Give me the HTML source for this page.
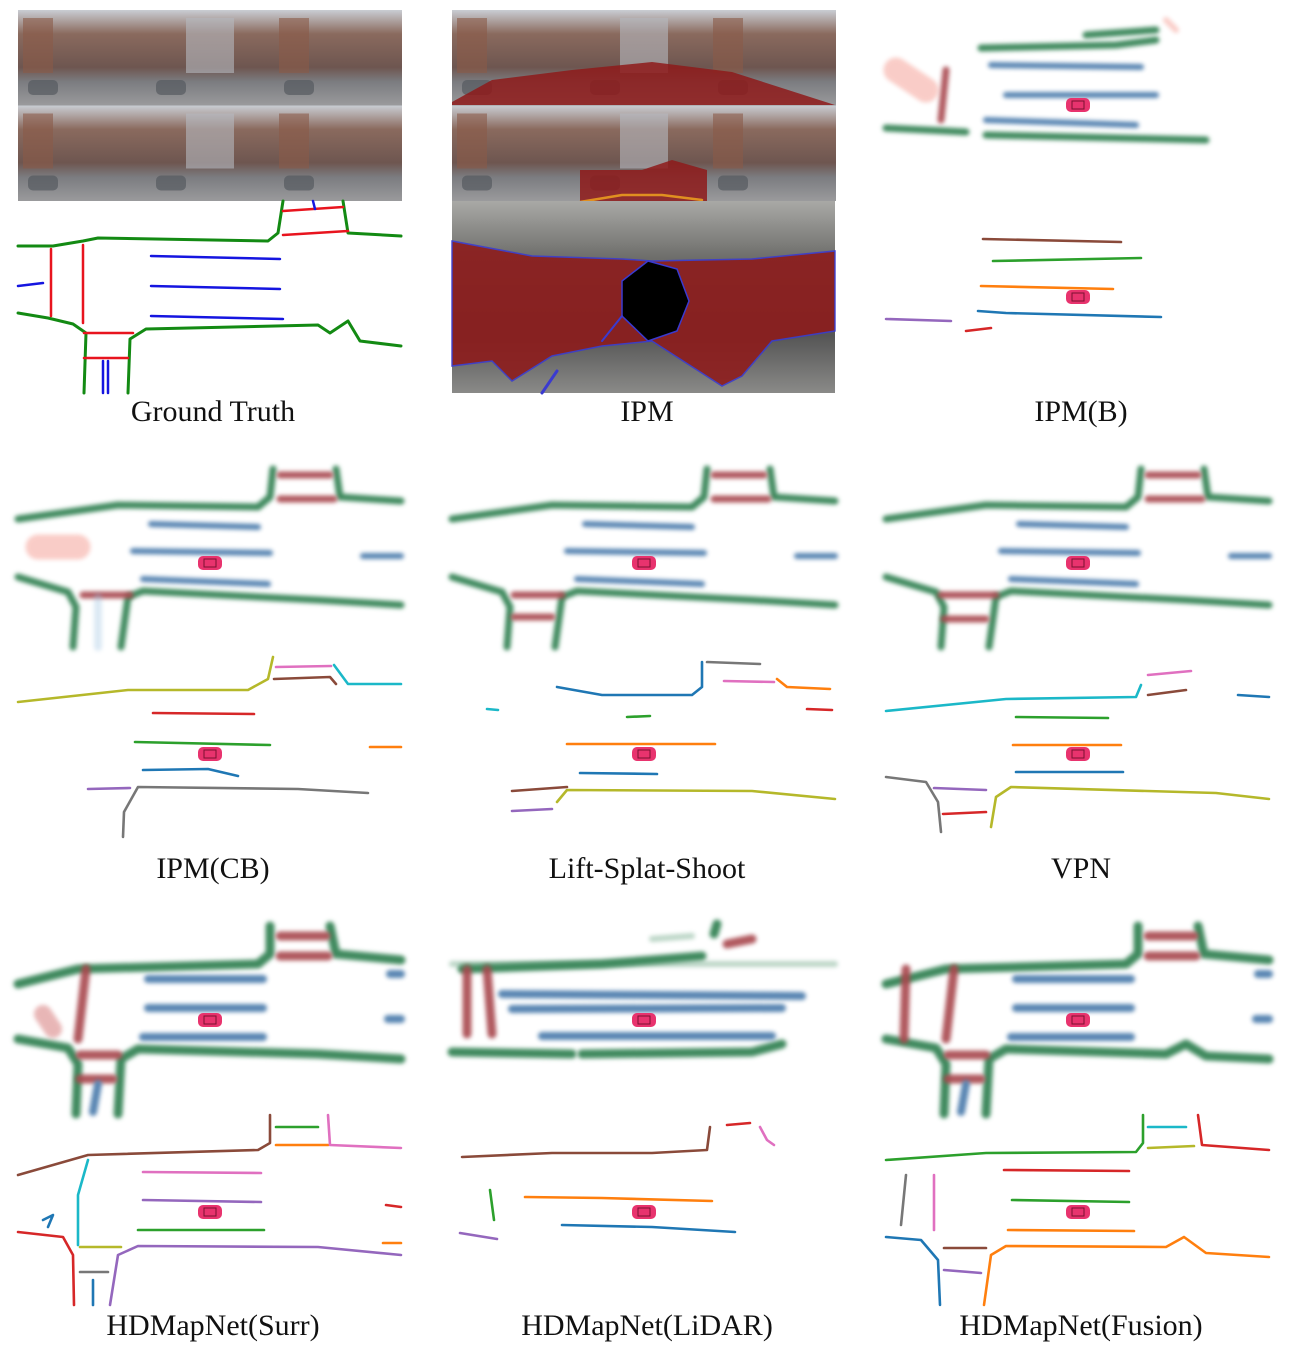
<!DOCTYPE html>
<html><head><meta charset="utf-8"><style>
body{margin:0;background:#fff;width:1297px;height:1350px;overflow:hidden}
svg{display:block}
text{font-family:"Liberation Serif",serif;font-size:30px;fill:#111}
</style></head><body>
<svg id="fig" width="1297" height="1350">
<defs>
<filter id="bl" filterUnits="userSpaceOnUse" x="-50" y="-50" width="500" height="300"><feGaussianBlur stdDeviation="2.2"/></filter>
<linearGradient id="ph" x1="0" y1="0" x2="0" y2="1">
<stop offset="0" stop-color="#c9cdd3"/><stop offset="0.25" stop-color="#8a6a5e"/><stop offset="0.6" stop-color="#6e5650"/><stop offset="0.75" stop-color="#7b7c80"/><stop offset="1" stop-color="#9a9a9c"/></linearGradient>
<linearGradient id="bev" x1="0" y1="0" x2="0" y2="1">
<stop offset="0" stop-color="#a9a9a6"/><stop offset="0.3" stop-color="#6d6d6a"/><stop offset="0.7" stop-color="#555"/><stop offset="1" stop-color="#8a8a88"/></linearGradient>
</defs>
<g id="content"></g>
<text x="213" y="421" text-anchor="middle">Ground Truth</text>
<text x="647" y="421" text-anchor="middle">IPM</text>
<text x="1081" y="421" text-anchor="middle">IPM(B)</text>
<text x="213" y="878" text-anchor="middle">IPM(CB)</text>
<text x="647" y="878" text-anchor="middle">Lift-Splat-Shoot</text>
<text x="1081" y="878" text-anchor="middle">VPN</text>
<text x="213" y="1335" text-anchor="middle">HDMapNet(Surr)</text>
<text x="647" y="1335" text-anchor="middle">HDMapNet(LiDAR)</text>
<text x="1081" y="1335" text-anchor="middle">HDMapNet(Fusion)</text>
</svg>
<script>
const NS='http://www.w3.org/2000/svg';
const root=document.getElementById('content');
function el(tag,attrs,parent){const e=document.createElementNS(NS,tag);for(const k in attrs)e.setAttribute(k,attrs[k]);(parent||root).appendChild(e);return e;}
function grp(x,y,name){const g=el('g',{transform:`translate(${x},${y})`});


return g;}
function pl(g,pts,color,w,name,blur,op){const p=el('polyline',{points:pts.map(a=>a.join(',')).join(' '),fill:'none',stroke:color,'stroke-width':w,'stroke-linecap':'round','stroke-linejoin':'round'},g);
if(blur)p.setAttribute('filter','url(#bl)');if(op)p.setAttribute('opacity',op);

return p;}
function car(g,x,y){const c=el('rect',{x:x-12,y:y-7,width:24,height:14,rx:5,fill:'#e8336e'},g);


el('rect',{x:x-6,y:y-4,width:12,height:8,fill:'none',stroke:'#7a1030','stroke-width':1},g);}
const G='#3f8a5f',B='#4f7fae',R='#a8464e';
function photos(x0,y0,name,overlay){
  const g=grp(x0,y0,name);
  for(let r=0;r<2;r++)for(let c=0;c<3;c++){
    const px=c*128,py=r*95.5;
    el('rect',{x:px,y:py,width:128,height:95.5,fill:'url(#ph)'},g);
    el('rect',{x:px+(c==1?40:5),y:py+8,width:c==1?48:30,height:55,fill:c==1?'#b5b9bf':'#8b5a48',opacity:0.6},g);
    el('rect',{x:px+10,y:py+70,width:30,height:15,rx:5,fill:'#555a60',opacity:0.7},g);
  }
  if(overlay){
    el('path',{d:'M0,92 L40,70 L120,60 L200,52 L280,62 L383,95 L0,95Z',fill:'#8e1a1a',opacity:0.85},g);
    el('path',{d:'M128,160 L190,160 L220,150 L255,160 L255,191 L128,191Z',fill:'#8e1a1a',opacity:0.85},g);
    pl(g,[[128,192],[170,185],[210,185],[250,190]],'#e09020',2.5,'ipm-orange-line');
    pl(g,[[255,192],[300,193],[350,198]],'#2a9a4a',2,'ipm-green-line');
  }
  return g;
}
photos(18,10,'ground-truth-camera-images',false);
photos(452,10,'ipm-camera-images',true);
const gt=grp(18,201,'ground-truth-map');
el('rect',{x:0,y:0,width:383,height:192,fill:'#fff'},gt);
pl(gt,[[0,45],[35,45],[65,40],[80,37],[250,40],[260,32],[265,0]],'#138a13',3,'gt-boundary');
pl(gt,[[325,0],[330,32],[383,35]],'#138a13',3,'gt-boundary');
pl(gt,[[0,112],[30,117],[55,123],[68,132],[66,192]],'#138a13',3,'gt-boundary');
pl(gt,[[110,192],[112,138],[128,128],[300,124],[312,132],[330,120],[342,140],[383,145]],'#138a13',3,'gt-boundary');
pl(gt,[[265,34],[330,30]],'#e8141e',2.5,'gt-crossing');pl(gt,[[265,10],[325,6]],'#e8141e',2.5,'gt-crossing');
pl(gt,[[33,48],[33,115]],'#e8141e',2.5,'gt-crossing');pl(gt,[[65,44],[65,122]],'#e8141e',2.5,'gt-crossing');
pl(gt,[[66,132],[115,132]],'#e8141e',2.5,'gt-crossing');pl(gt,[[66,157],[110,157]],'#e8141e',2.5,'gt-crossing');
[[55,133,262],[85,133,262],[115,133,265]].forEach(a=>pl(gt,[[a[1],a[0]],[a[2],a[0]+3]],'#1515e0',2.5,'gt-lane-divider'));
pl(gt,[[0,85],[25,82]],'#1515e0',2.5,'gt-lane-divider');pl(gt,[[85,160],[85,192]],'#1515e0',2.5,'gt-lane-divider');
pl(gt,[[90,160],[90,192]],'#1515e0',2.5,'gt-lane-divider');pl(gt,[[295,0],[297,8]],'#1515e0',2.5,'gt-lane-divider');
const ib=grp(452,201,'ipm-birds-eye-view');
el('rect',{x:0,y:0,width:383,height:192,fill:'url(#bev)'},ib);
el('path',{d:'M0,40 L80,55 L170,58 L200,60 L300,58 L383,50 L383,130 L320,140 L290,175 L270,185 L200,140 L150,145 L100,155 L60,180 L40,160 L0,165Z',fill:'#8e1a1a',opacity:0.88,stroke:'#3a3ad0','stroke-width':1.5},ib);
el('polygon',{points:'196,60 225,68 237,100 225,130 196,140 170,115 170,80',fill:'#000',stroke:'#3a3ad0','stroke-width':1.5},ib);
pl(ib,[[170,115],[150,140]],'#3a3ad0',2,'ipm-line');pl(ib,[[90,192],[105,170]],'#3a3ad0',3,'ipm-line');
function heat(x,y,name,h,thick){
  const g=grp(x,y,name);const w=thick?9:7;
  pl(g,h.top1,G,w,'road-boundary',true);pl(g,h.top2,G,w,'road-boundary',true);
  pl(g,h.bot1,G,w,'road-boundary',true);pl(g,h.bot2,G,w,'road-boundary',true);
  h.red.forEach(r=>pl(g,r,R,w,'ped-crossing',true,0.9));
  h.blue.forEach(r=>pl(g,r,B,w-1,'lane-divider',true,0.95));
  (h.faint||[]).forEach(r=>pl(g,r[0],r[1],r[2],'noise',true,0.35));
  car(g,192,h.car);return g;
}
function vec(x,y,name,lines,carY){const g=grp(x,y,name);lines.forEach(l=>pl(g,l[1],l[0],2.6,'instance-line'));car(g,192,carY);return g;}
const H2={top1:[[0,52],[100,38],[240,40],[252,30],[255,2]],top2:[[318,2],[322,30],[383,34]],
 bot1:[[0,110],[50,125],[58,140],[55,180]],bot2:[[103,180],[110,130],[125,124],[300,133],[383,138]],
 red:[[[262,8],[312,8]],[[262,32],[316,32]]],blue:[[[133,57],[240,60]],[[115,84],[252,86]],[[125,112],[250,117]],[[345,89],[383,89]]],car:96};
const V2=[['#b5b82a',[[0,45],[110,33],[230,33],[250,22],[255,0]]],['#e070c0',[[258,10],[313,9]]],['#1bb8c8',[[316,8],[330,27],[383,27]]],
 ['#8a4a3a',[[256,22],[312,20],[318,27]]],['#d62728',[[135,56],[236,57]]],['#2ca02c',[[117,85],[252,88]]],['#ff7f0e',[[352,90],[383,90]]],
 ['#1f77b4',[[125,113],[190,112],[220,119]]],['#9467bd',[[70,132],[112,131]]],['#777',[[105,180],[106,155],[120,130],[280,132],[350,136]]]];
const H2f=JSON.parse(JSON.stringify(H2));H2f.faint=[[[[20,80],[60,80]],'#f07060',25],[[[80,130],[80,180]],'#9ac0e0',8]];H2f.red.push([[65,128],[112,128]]);
heat(18,467,'ipm-cb-heatmap',H2f,false);
vec(18,657,'ipm-cb-vectors',V2,97);
const H2l=JSON.parse(JSON.stringify(H2));H2l.red.push([[62,128],[110,128]],[[62,150],[100,150]]);
heat(452,467,'lss-heatmap',H2l,false);
vec(452,657,'lss-vectors',[['#1f77b4',[[105,30],[150,38],[240,38],[250,30],[250,5]]],['#777',[[255,5],[308,7]]],['#e070c0',[[272,24],[322,25]]],
 ['#ff7f0e',[[325,22],[335,30],[378,32]]],['#d62728',[[355,52],[380,53]]],['#1bb8c8',[[35,52],[46,53]]],['#2ca02c',[[175,60],[198,59]]],
 ['#ff7f0e',[[115,87],[263,87]]],['#1f77b4',[[128,116],[205,117]]],['#8a4a3a',[[60,134],[115,130]]],['#9467bd',[[60,154],[100,152]]],
 ['#b5b82a',[[105,145],[115,133],[300,134],[383,142]]]],97);
const H2v=JSON.parse(JSON.stringify(H2));H2v.red.push([[55,128],[110,128]],[[58,152],[100,152]]);
heat(886,467,'vpn-heatmap',H2v,false);
vec(886,657,'vpn-vectors',[['#1bb8c8',[[0,54],[120,42],[250,40],[255,28]]],['#e070c0',[[262,18],[305,14]]],['#8a4a3a',[[262,38],[300,33]]],
 ['#1f77b4',[[352,38],[383,40]]],['#2ca02c',[[130,60],[222,61]]],['#ff7f0e',[[127,88],[235,88]]],['#1f77b4',[[130,115],[237,115]]],
 ['#777',[[0,120],[40,125],[52,145],[55,175]]],['#9467bd',[[48,131],[100,133]]],['#d62728',[[57,157],[100,155]]],
 ['#b5b82a',[[105,170],[110,140],[125,130],[330,136],[383,142]]]],97);
const H3={top1:[[0,60],[60,45],[240,40],[252,30],[252,2]],top2:[[312,2],[318,30],[383,36]],
 bot1:[[0,115],[50,124],[60,140],[58,190]],bot2:[[100,190],[103,135],[120,125],[300,130],[383,135]],
 red:[[[262,12],[308,12]],[[262,32],[310,32]],[[68,45],[60,115]],[[62,131],[100,131]],[[62,155],[95,155]]],
 blue:[[[130,55],[245,55]],[[130,84],[245,84]],[[125,113],[245,113]],[[80,160],[75,188]],[[372,50],[383,50]],[[370,95],[383,95]]],car:96};
const H3s=JSON.parse(JSON.stringify(H3));H3s.faint=[[[[25,90],[35,105]],'#c03030',18]];
heat(18,924,'hdmapnet-surr-heatmap',H3s,true);
vec(18,1115,'hdmapnet-surr-vectors',[['#8a4a3a',[[0,60],[70,40],[240,35],[252,28],[252,0]]],['#2ca02c',[[258,12],[300,12]]],['#ff7f0e',[[258,30],[310,30]]],
 ['#e070c0',[[310,0],[312,30],[383,33]]],['#e070c0',[[125,57],[243,58]]],['#9467bd',[[125,85],[243,87]]],['#2ca02c',[[120,115],[246,115]]],
 ['#1bb8c8',[[70,45],[60,80],[60,130]]],['#1f77b4',[[25,105],[35,100],[30,112]]],['#d62728',[[0,117],[45,122],[55,140],[56,190]]],
 ['#b5b82a',[[62,132],[103,132]]],['#777',[[62,157],[90,157]]],['#1f77b4',[[75,165],[75,190]]],['#9467bd',[[92,190],[100,140],[120,131],[300,132],[383,140]]],
 ['#d62728',[[368,90],[383,92]]],['#ff7f0e',[[365,128],[383,128]]]],97);
heat(452,924,'hdmapnet-lidar-heatmap',{top1:[[10,45],[150,40],[250,32]],top2:[[262,10],[265,0]],bot1:[[0,128],[120,130]],bot2:[[130,130],[300,128],[330,120]],
 red:[[[15,45],[15,110]],[[35,45],[40,110]],[[275,20],[300,15]]],blue:[[[50,70],[350,72]],[[60,85],[330,84]],[[90,112],[320,112]]],
 faint:[[[[0,40],[383,40]],'#3f8a5f',6],[[[200,15],[240,12]],'#3f8a5f',6]],car:96},true);
vec(452,1115,'hdmapnet-lidar-vectors',[['#8a4a3a',[[10,42],[100,38],[200,38],[255,35],[258,12]]],['#d62728',[[275,10],[298,8]]],['#e070c0',[[308,12],[315,25],[322,30]]],
 ['#ff7f0e',[[73,82],[150,83],[260,86]]],['#2ca02c',[[38,75],[42,105]]],['#1f77b4',[[110,110],[200,112],[283,117]]],['#9467bd',[[8,118],[45,124]]]],97);
const H3f=JSON.parse(JSON.stringify(H3));H3f.bot2=[[100,190],[103,135],[120,125],[280,130],[300,120],[320,132],[383,135]];H3f.red.push([[20,45],[18,115]]);
heat(886,924,'hdmapnet-fusion-heatmap',H3f,true);
vec(886,1115,'hdmapnet-fusion-vectors',[['#2ca02c',[[0,45],[100,38],[250,37],[257,28],[257,0]]],['#1bb8c8',[[262,12],[300,12]]],['#b5b82a',[[262,33],[308,31]]],
 ['#d62728',[[312,0],[316,30],[383,35]]],['#d62728',[[118,55],[243,56]]],['#2ca02c',[[126,85],[243,87]]],['#ff7f0e',[[122,115],[248,116]]],
 ['#777',[[20,60],[15,110]]],['#e070c0',[[48,60],[48,115]]],['#1f77b4',[[0,122],[35,125],[52,145],[54,190]]],['#8a4a3a',[[58,133],[100,133]]],
 ['#9467bd',[[58,155],[95,158]]],['#ff7f0e',[[98,190],[105,140],[120,131],[280,132],[298,122],[320,138],[383,142]]]],97);
heat(886,10,'ipm-b-heatmap',{top1:[[95,38],[230,35],[270,30]],top2:[[200,25],[270,20]],bot1:[[0,118],[80,122]],bot2:[[100,125],[320,130]],
 red:[[[60,60],[55,110]]],blue:[[[105,55],[255,57]],[[120,85],[270,85]],[[100,110],[250,115]]],faint:[[[[10,60],[40,80]],'#f07060',25],[[[280,10],[290,20]],'#f07060',6]],car:95},false);
vec(886,201,'ipm-b-vectors',[['#8a4a3a',[[97,38],[235,41]]],['#2ca02c',[[107,60],[255,57]]],['#ff7f0e',[[95,85],[227,88]]],
 ['#1f77b4',[[92,110],[120,112],[275,116]]],['#9467bd',[[0,118],[65,120]]],['#d62728',[[80,130],[105,127]]]],96);
</script>
</body></html>
